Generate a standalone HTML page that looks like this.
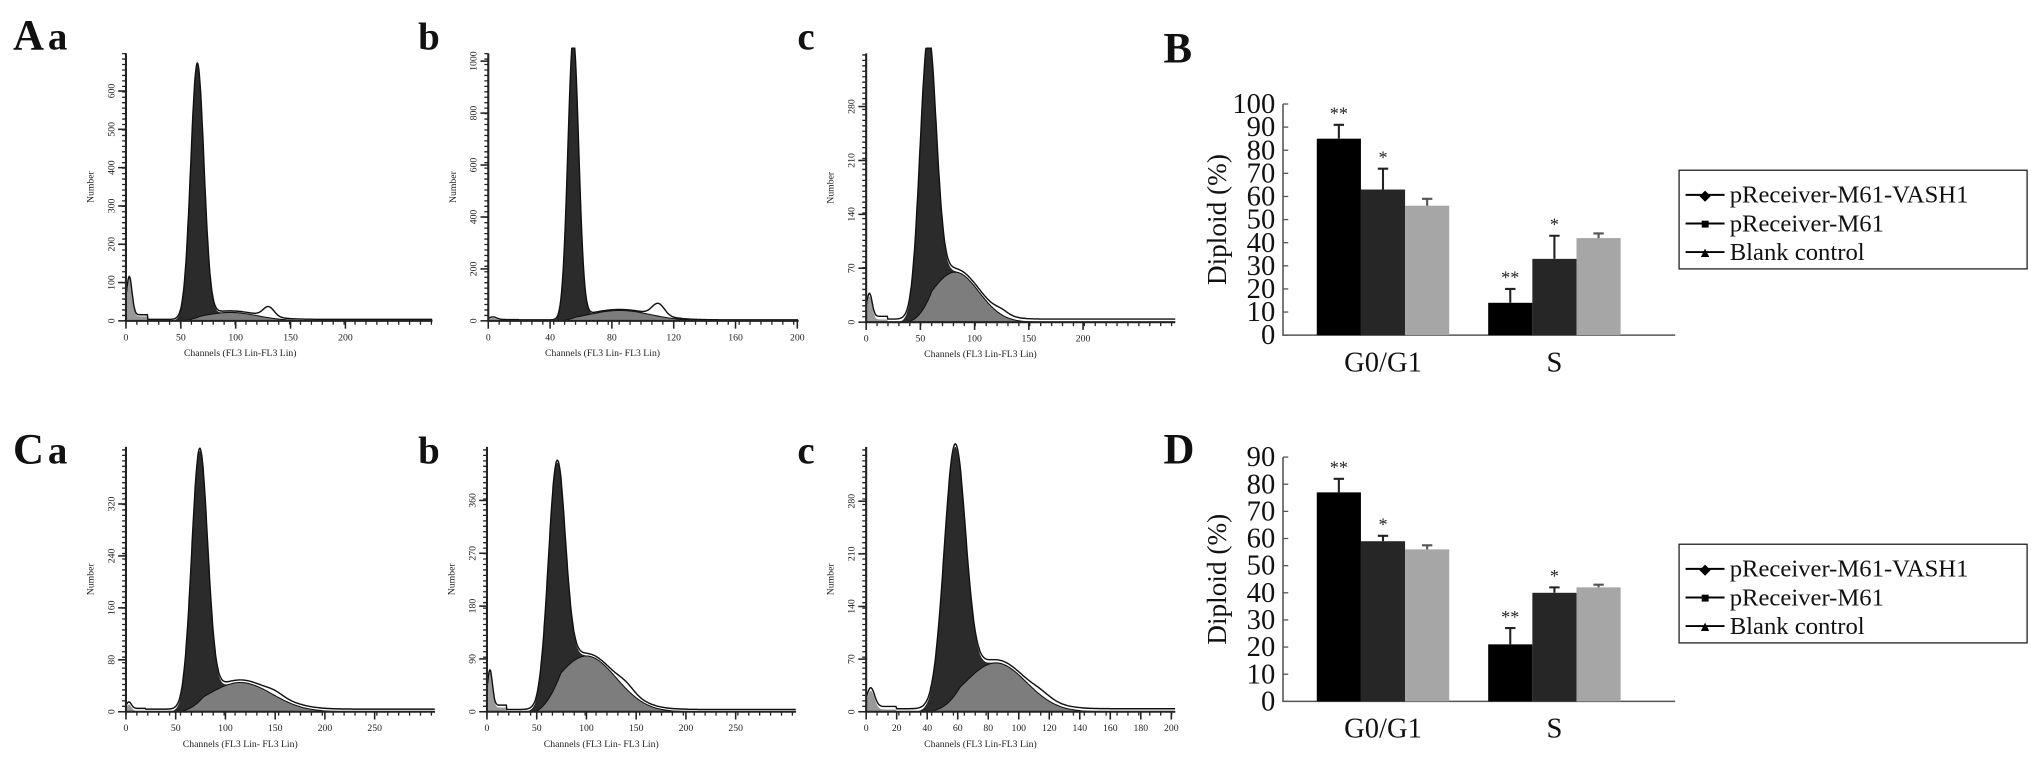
<!DOCTYPE html>
<html><head><meta charset="utf-8">
<style>
html,body{margin:0;padding:0;background:#fff;}
svg{display:block;}
text{font-family:"Liberation Serif",serif;}
</style></head>
<body>
<svg id="fig" width="2031" height="769" viewBox="0 0 1564 592" xmlns="http://www.w3.org/2000/svg">
<rect x="0" y="0" width="1564" height="592" fill="#fff"/>
<g font-weight="bold" font-size="33" fill="#111">
<text x="10" y="38">A<tspan font-size="30" dx="3">a</tspan></text>
<text x="322" y="38" font-size="30">b</text>
<text x="614" y="38" font-size="30">c</text>
<text x="896" y="48">B</text>
<text x="10" y="357">C<tspan font-size="30" dx="3">a</tspan></text>
<text x="322" y="357" font-size="30">b</text>
<text x="614" y="357" font-size="30">c</text>
<text x="896" y="357">D</text>
</g>
<g id="hists"></g>
<g id="bars"></g>
</svg>
<script>
// ---- histogram data (channel peak model) ----
const histNames = ['Aa','Ab','Ac','Ca','Cb','Cc'];
const g1Center = [65, 55, 57, 74, 70, 58];
const g1Height = [660, 1080, 340, 385, 375, 330];
const g1Sd     = [6, 3.5, 7.5, 8, 8.5, 7];
const sCenter  = [95, 85, 82, 115, 100, 85];
const sHeight  = [22, 40, 65, 45, 95, 65];
const sSd      = [25, 20, 22, 32, 30, 20];
const g2Center = [130, 110, 125, 150, 140, 115];
const g2Height = [25, 45, 4, 4, 8, 4];
const g2Sd     = [5, 4, 6, 8, 8, 6];
const debrisH  = [100, 10, 30, 10, 60, 25];
const xTickLabels = [[0,50,100,150,200],[0,40,80,120,160,200],[0,50,100,150,200],[0,50,100,150,200,250],[0,50,100,150,200,250],[0,20,40,60,80,100,120,140,160,180,200]];
const yTickLabels = [[0,100,200,300,400,500,600],[0,200,400,600,800,1000],[0,70,140,210,280],[0,80,160,240,320],[0,90,180,270,360],[0,70,140,210,280]];
// ---- layout (pixel geometry) ----
const hx0 = [97, 376, 667, 97, 375, 667];
const hxEnd = [333, 615, 905, 335, 613, 905];
const hpx = [0.845, 1.19, 0.835, 0.766, 0.766, 1.175];
const hy0 = [247, 247, 248, 548, 548, 548];
const hyTop = [41, 41, 41, 344, 344, 344];
const hpy = [0.295, 0.2, 0.593, 0.5, 0.452, 0.579];

// ---- bar data ----
const barCats = ['G0/G1','S'];
const seriesNames = ['pReceiver-M61-VASH1','pReceiver-M61','Blank control'];
const bVals = [[85,14],[63,33],[56,42]];
const bErr  = [[6,6],[9,10],[3,2]];
const dVals = [[77,21],[59,40],[56,42]];
const dErr  = [[5,6],[2,2],[1.5,1]];
const bStars = [['**','**'],['*','*'],['','']];
const bTicks = [0,10,20,30,40,50,60,70,80,90,100];
const dTicks = [0,10,20,30,40,50,60,70,80,90];

const NS='http://www.w3.org/2000/svg';
function mk(tag, attrs, parent){const e=document.createElementNS(NS,tag);for(const k in attrs)e.setAttribute(k,attrs[k]);parent.appendChild(e);return e;}
function gauss(x,c,h,s){return h*Math.exp(-((x-c)*(x-c))/(2*s*s));}

const H=document.getElementById('hists');
histNames.forEach((nm,i)=>{
  const g=mk('g',{},H);
  
  
  const X=c=>hx0[i]+c*hpx[i];
  const Y=v=>hy0[i]-Math.min(v*hpy[i],hy0[i]-hyTop[i]+4);
  const maxC=(hxEnd[i]-hx0[i])/hpx[i];
  const comp=(c)=>{
    const start=g1Center[i]-2.5*g1Sd[i];
    let s=0;
    if(c>start){ s=gauss(c,sCenter[i],sHeight[i],sSd[i]); const rise=Math.min(1,(c-start)/(3*g1Sd[i])); s*=rise; }
    return {d:gauss(c,3,debrisH[i],2.5)+(c<20?debrisH[i]*0.12:0),
      g1:gauss(c,g1Center[i],g1Height[i],g1Sd[i]), s:s,
      g2:gauss(c,g2Center[i],g2Height[i],g2Sd[i])};
  };
  const pts=[];
  for(let c=0;c<=maxC;c+=0.5){pts.push([c,comp(c)]);}
  const dTot=pts.map((p,j)=>(j?'L':'M')+X(p[0]).toFixed(1)+','+Y(p[1].d+p[1].g1+p[1].s+p[1].g2+4).toFixed(1)).join('');
  const dG1='M'+X(0)+','+hy0[i]+pts.map(p=>'L'+X(p[0]).toFixed(1)+','+Y(p[1].g1+p[1].s).toFixed(1)).join('')+'L'+X(maxC)+','+hy0[i]+'Z';
  const dS='M'+X(0)+','+hy0[i]+pts.map(p=>'L'+X(p[0]).toFixed(1)+','+Y(p[1].s).toFixed(1)).join('')+'L'+X(maxC)+','+hy0[i]+'Z';
  const dDeb='M'+X(0)+','+hy0[i]+pts.filter(p=>p[0]<25).map(p=>'L'+X(p[0]).toFixed(1)+','+Y(p[1].d).toFixed(1)).join('')+'L'+X(25)+','+hy0[i]+'Z';
  const pa=mk('path',{d:dG1,fill:'#2b2b2b'},g);
  
  
  const pb=mk('path',{d:dS,fill:'#7d7d7d',stroke:'#111','stroke-width':0.8},g);
  
  
  const pd=mk('path',{d:dDeb,fill:'#999'},g);
  
  
  const pt=mk('path',{d:dTot,fill:'none',stroke:'#111','stroke-width':1.1},g);
  
  
  const ax=mk('path',{d:`M${hx0[i]},${hyTop[i]}V${hy0[i]}H${hxEnd[i]}`,fill:'none',stroke:'#222','stroke-width':1.6},g);
  
  
  let tk='';
  for(let y=hy0[i];y>=hyTop[i];y-=4.2) tk+=`M${hx0[i]-3},${y.toFixed(1)}h3`;
  for(let x=hx0[i];x<=hxEnd[i];x+=8.4) tk+=`M${x.toFixed(1)},${hy0[i]}v3`;
  mk('path',{d:tk,stroke:'#222','stroke-width':1},g);
  yTickLabels[i].forEach(v=>{const y=hy0[i]-v*hpy[i];
    mk('path',{d:`M${hx0[i]-6},${y}h6`,stroke:'#222','stroke-width':1.2},g);
    const tx=mk('text',{x:hx0[i]-9,y:y,'font-size':7.5,'text-anchor':'middle',transform:`rotate(-90 ${hx0[i]-9} ${y})`,fill:'#222'},g);
    tx.textContent=v;
    
    });
  xTickLabels[i].forEach(v=>{const x=hx0[i]+v*hpx[i];
    mk('path',{d:`M${x},${hy0[i]}v6`,stroke:'#222','stroke-width':1.2},g);
    const tx=mk('text',{x:x,y:hy0[i]+15,'font-size':7.5,'text-anchor':'middle',fill:'#222'},g);
    tx.textContent=v;
    
    });
  const ym=(hy0[i]+hyTop[i])/2;
  const yt=mk('text',{x:hx0[i]-25,y:ym,'font-size':7.5,'text-anchor':'middle',transform:`rotate(-90 ${hx0[i]-25} ${ym})`,fill:'#222'},g);
  yt.textContent='Number';
  
  
  const xt=mk('text',{x:hx0[i]+88,y:hy0[i]+27,'font-size':7.5,'text-anchor':'middle',fill:'#222'},g);
  xt.textContent=(i===0||i===2||i===5)?'Channels  (FL3 Lin-FL3 Lin)':'Channels  (FL3 Lin- FL3 Lin)';
  
  
});

// ---- bar charts ----
const BG=document.getElementById('bars');
const fills=['#000','#262626','#a6a6a6'];
const markers=['◆','■','▲'];
function barChart(name,vals,errs,ticks,y0,pxPer,legendY){
  const g=mk('g',{},BG);
  
  
  const ax0=988, Y=v=>y0-v*pxPer/10;
  const groupX=[1014,1146], bw=34;
  const topV=ticks[ticks.length-1];
  mk('path',{d:`M${ax0},${Y(topV)}V${y0}H1290`,fill:'none',stroke:'#555','stroke-width':1.2},g);
  ticks.forEach(v=>{mk('path',{d:`M${ax0},${Y(v)}h4`,stroke:'#555','stroke-width':1},g);
    const t=mk('text',{x:ax0-6,y:Y(v)+7,'font-size':22,'text-anchor':'end',fill:'#111'},g);
    t.textContent=v;
    
    });
  const cy=(Y(topV)+y0)/2;
  const yt=mk('text',{x:944,y:cy,'font-size':21,'text-anchor':'middle',transform:`rotate(-90 944 ${cy})`,fill:'#111'},g);
  yt.textContent='Diploid (%)';
  
  
  barCats.forEach((c,ci)=>{
    seriesNames.forEach((s,si)=>{
      const x=groupX[ci]+si*bw, v=vals[si][ci], e=errs[si][ci];
      const r=mk('rect',{x:x,y:Y(v),width:bw,height:y0-Y(v),fill:fills[si]},g);
      
      
      mk('path',{d:`M${x+bw/2},${Y(v)}V${Y(v+e)}M${x+bw/2-4},${Y(v+e)}h8`,stroke:si===2?'#555':'#222','stroke-width':1.6},g);
      if(bStars[si][ci]){const st=mk('text',{x:x+bw/2,y:Y(v+e)-4,'font-size':14,'text-anchor':'middle',fill:'#222'},g);
        st.textContent=bStars[si][ci];
        
        }
    });
    const lt=mk('text',{x:groupX[ci]+51,y:y0+28,'font-size':22,'text-anchor':'middle',fill:'#111'},g);
    lt.textContent=c;
    
    
  });
  const lg=mk('g',{},g);
  
  
  mk('rect',{x:1293,y:legendY,width:268,height:76,fill:'#fff',stroke:'#222','stroke-width':1},lg);
  seriesNames.forEach((s,si)=>{const ly=legendY+19+si*22;
    mk('path',{d:`M1298,${ly}h30`,stroke:'#000','stroke-width':1.5},lg);
    const m=mk('text',{x:1313,y:ly+4,'font-size':11,'text-anchor':'middle',fill:'#000','font-family':'DejaVu Sans'},lg);
    m.textContent=markers[si];
    const t=mk('text',{x:1332,y:ly+6,'font-size':19,fill:'#111'},lg);
    t.textContent=s;
    
    });
}
barChart('bar-chart-B',bVals,bErr,bTicks,258,17.8,131);
barChart('bar-chart-D',dVals,dErr,dTicks,540,20.9,419);
</script>
</body></html>
